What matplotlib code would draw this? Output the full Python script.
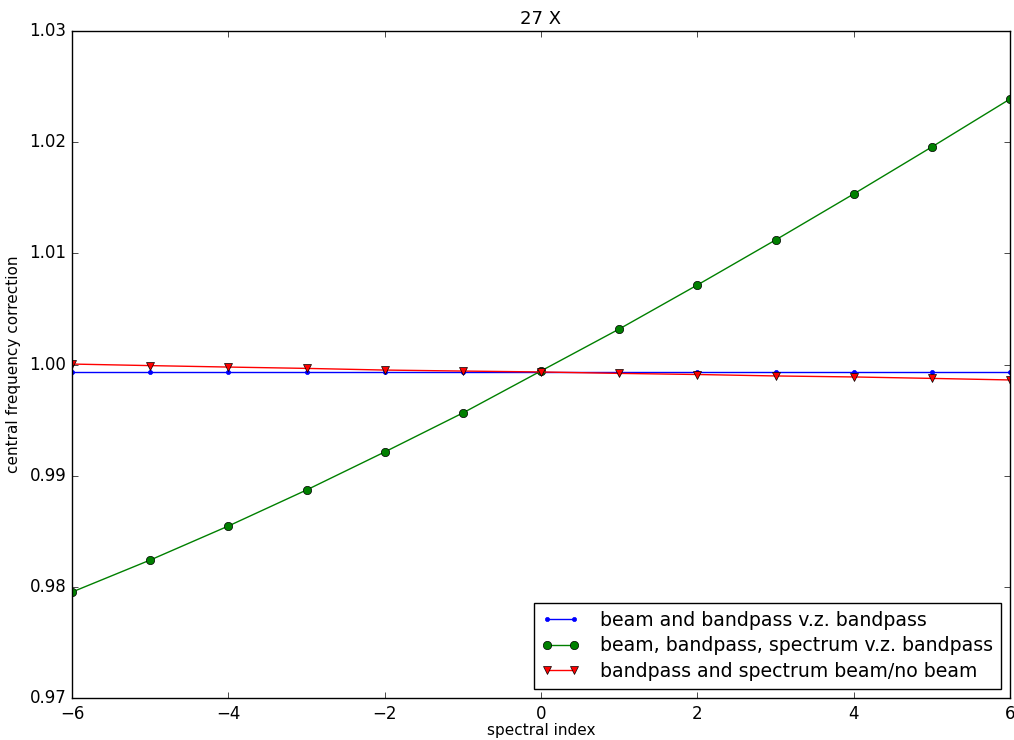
import matplotlib
matplotlib.use("Agg")
import matplotlib.pyplot as plt

plt.style.use("classic")

spectral_index = [-6, -5, -4, -3, -2, -1, 0, 1, 2, 3, 4, 5, 6]
beam_bandpass = [0.99933] * 13
beam_bandpass_spectrum = [0.97953, 0.98241, 0.98547, 0.98871, 0.99213, 0.99564, 0.99942,
                          1.00319, 1.00715, 1.01120, 1.01534, 1.01957, 1.02388]
bandpass_spectrum_ratio = [1.00004, 0.99990, 0.99977, 0.99965, 0.99950, 0.99941, 0.99933,
                           0.99920, 0.99910, 0.99897, 0.99888, 0.99875, 0.99861]

labels = ["beam and bandpass v.z. bandpass",
          "beam, bandpass, spectrum v.z. bandpass",
          "bandpass and spectrum beam/no beam"]

fig = plt.figure(figsize=(10.14, 7.40), dpi=100, facecolor="white")
ax = fig.add_axes([72/1014, 1 - 698/740, (1010-72)/1014, (698-31)/740])

ax.plot(spectral_index, beam_bandpass, "b.-", label=labels[0])
ax.plot(spectral_index, beam_bandpass_spectrum, "go-", label=labels[1], markersize=6)
ax.plot(spectral_index, bandpass_spectrum_ratio, "rv-", label=labels[2], markersize=6)

ax.set_xlim(-6, 6)
ax.set_ylim(0.97, 1.03)
ax.set_xticks([-6, -4, -2, 0, 2, 4, 6])
ax.set_yticks([0.97, 0.98, 0.99, 1.00, 1.01, 1.02, 1.03])
ax.set_yticklabels(["0.97", "0.98", "0.99", "1.00", "1.01", "1.02", "1.03"])
ax.tick_params(labelsize=12)
ax.tick_params(axis="x", pad=5)
ax.set_xlabel("spectral index", fontsize=11, labelpad=0)
ax.set_ylabel("central frequency correction", fontsize=11, labelpad=6)
ax.set_title("27 X", fontsize=13)
ax.legend(loc="lower right", fontsize=13.6, numpoints=2, handletextpad=1.1,
          labelspacing=0.35)

fig.savefig("out.png", dpi=100, facecolor="white")
